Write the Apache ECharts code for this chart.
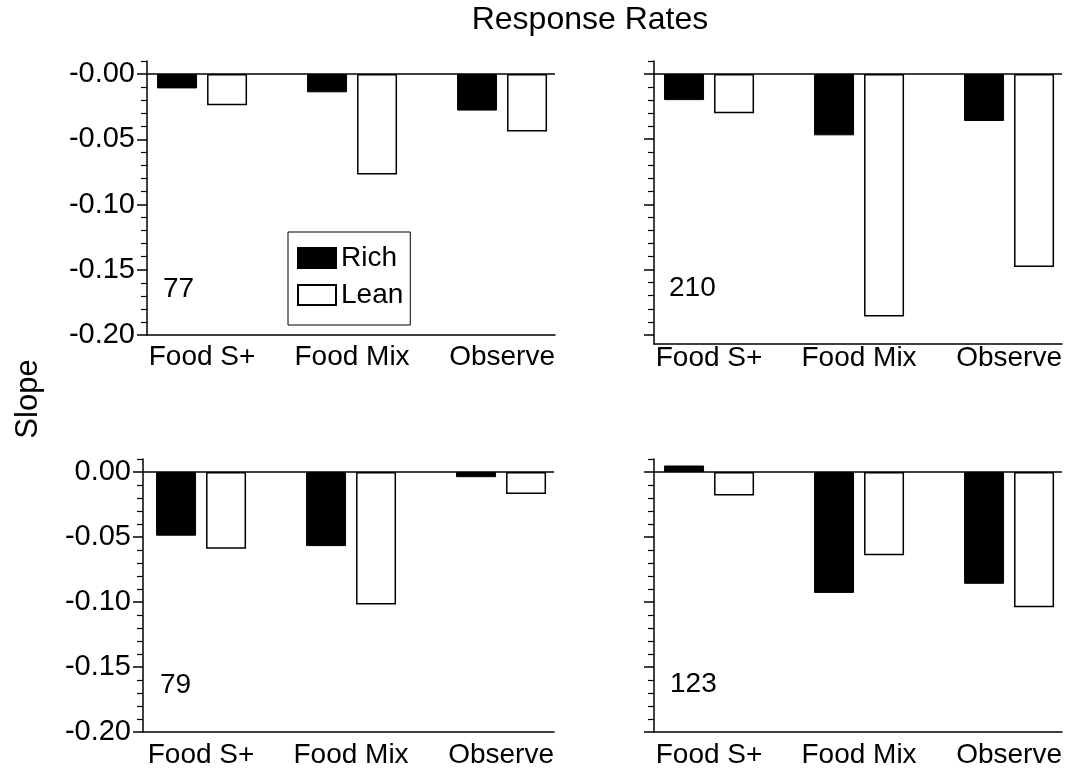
<!DOCTYPE html>
<html>
<head>
<meta charset="utf-8">
<script src="https://cdn.jsdelivr.net/npm/echarts@6/dist/echarts.min.js"></script>
<style>
  html, body { margin: 0; padding: 0; background: #fff; }
  #chart { width: 1070px; height: 774px; }
</style>
</head>
<body>
<div id="chart"></div>
<script>
// Conditions along the x axis of every panel
const categories = ['Food S+', 'Food Mix', 'Observe'];

// Slopes per subject (panel) for the rich and lean components
const rich77  = [-0.011, -0.014, -0.028];
const lean77  = [-0.024, -0.077, -0.044];
const rich210 = [-0.020, -0.047, -0.036];
const lean210 = [-0.030, -0.186, -0.148];
const rich79  = [-0.049, -0.057, -0.004];
const lean79  = [-0.059, -0.102, -0.017];
const rich123 = [0.005, -0.093, -0.086];
const lean123 = [-0.018, -0.064, -0.104];

// Y axis ticks
const majorTicks = [0, -0.05, -0.10, -0.15, -0.20];
const minorTicks = [0.01, -0.01, -0.02, -0.03, -0.04, -0.06, -0.07, -0.08, -0.09,
                    -0.11, -0.12, -0.13, -0.14, -0.16, -0.17, -0.18, -0.19];
const tickLabelsUpper = ['-0.00', '-0.05', '-0.10', '-0.15', '-0.20'];
const tickLabelsLower = ['0.00', '-0.05', '-0.10', '-0.15', '-0.20'];

const FONT = 'Liberation Sans, Arial, Helvetica, sans-serif';
const BLACK = '#000';

const panels = [
  { id: '77',  rich: rich77,  lean: lean77,  left: 147, top: 61,  width: 408, height: 274, yMin: -0.20,  xMin: -0.367, labels: tickLabelsUpper, labelMargin: 8 },
  { id: '210', rich: rich210, lean: lean210, left: 654, top: 61,  width: 408, height: 283, yMin: -0.207, xMin: -0.367, labels: null,            labelMargin: 0 },
  { id: '79',  rich: rich79,  lean: lean79,  left: 143, top: 459, width: 411, height: 273, yMin: -0.20,  xMin: -0.387, labels: tickLabelsLower, labelMargin: 9 },
  { id: '123', rich: rich123, lean: lean123, left: 654, top: 459, width: 408, height: 273, yMin: -0.20,  xMin: -0.367, labels: null,            labelMargin: 9 }
];
const X_MAX = 2.353;
const Y_MAX = 0.01;

const grid = [], xAxis = [], yAxis = [], series = [], graphic = [];

panels.forEach((p, i) => {
  grid.push({ left: p.left, top: p.top, width: p.width, height: p.height });

  xAxis.push({
    type: 'value', gridIndex: i, min: p.xMin, max: X_MAX,
    axisLine: { show: true, onZero: false, lineStyle: { color: BLACK, width: 1.5 } },
    axisTick: { show: false },
    splitLine: { show: false },
    axisLabel: {
      customValues: [0, 1, 2],
      formatter: v => categories[Math.round(v)],
      margin: p.labelMargin,
      color: BLACK, fontFamily: FONT, fontSize: 28
    }
  });

  // major axis: line, long ticks, labels
  const labels = p.labels;
  yAxis.push({
    type: 'value', gridIndex: i, min: p.yMin, max: Y_MAX,
    axisLine: { show: true, onZero: false, lineStyle: { color: BLACK, width: 1.5 } },
    axisTick: { show: true, customValues: majorTicks, length: 10, lineStyle: { color: BLACK, width: 1.5 } },
    splitLine: { show: false },
    axisLabel: labels ? {
      show: true,
      customValues: majorTicks,
      formatter: v => labels[majorTicks.findIndex(t => Math.abs(t - v) < 1e-9)],
      margin: 12,
      color: BLACK, fontFamily: FONT, fontSize: 29
    } : { show: false }
  });
  // minor ticks only, on the same left edge
  yAxis.push({
    type: 'value', gridIndex: i, min: p.yMin, max: Y_MAX, position: 'left',
    axisLine: { show: false, onZero: false },
    axisTick: { show: true, customValues: minorTicks, length: 6, lineStyle: { color: BLACK, width: 1.2 } },
    splitLine: { show: false },
    axisLabel: { show: false }
  });

  const yIdx = i * 2;
  series.push({
    name: 'Rich', type: 'bar', xAxisIndex: i, yAxisIndex: yIdx,
    data: categories.map((c, k) => [k, p.rich[k]]),
    barWidth: 40, barGap: '25%',
    itemStyle: { color: BLACK, borderColor: BLACK, borderWidth: 1 },
    markLine: {
      silent: true, symbol: 'none', label: { show: false },
      lineStyle: { color: BLACK, type: 'solid', width: 1.5 },
      data: [{ yAxis: 0 }]
    }
  });
  series.push({
    name: 'Lean', type: 'bar', xAxisIndex: i, yAxisIndex: yIdx,
    data: categories.map((c, k) => [k, p.lean[k]]),
    barWidth: 40, barGap: '25%',
    itemStyle: { color: '#fff', borderColor: BLACK, borderWidth: 1.5 }
  });
});

// Subject numbers inside each panel
const idPos = [[163, 289], [669, 288], [160, 685], [670, 684]];
panels.forEach((p, i) => {
  graphic.push({
    type: 'text', x: idPos[i][0], y: idPos[i][1],
    style: { text: p.id, fill: BLACK, font: '28px ' + FONT, textAlign: 'left', textVerticalAlign: 'middle' }
  });
});
graphic.push({
  type: 'text', x: 590, y: 20,
  style: { text: 'Response Rates', fill: BLACK, font: '32px ' + FONT, textAlign: 'center', textVerticalAlign: 'middle' }
});
graphic.push({
  type: 'text', x: 28, y: 399, rotation: Math.PI / 2,
  style: { text: 'Slope', fill: BLACK, font: '31px ' + FONT, textAlign: 'center', textVerticalAlign: 'middle' }
});

const chart = echarts.init(document.getElementById('chart'), null, { renderer: 'canvas' });
chart.setOption({
  backgroundColor: '#fff',
  animation: false,
  grid, xAxis, yAxis, series, graphic,
  legend: {
    data: ['Rich', 'Lean'],
    orient: 'vertical',
    left: 288, top: 232,
    itemWidth: 38, itemHeight: 20, itemGap: 9, itemTextGap: 3,
    padding: [12, 7, 16, 9],
    borderColor: BLACK, borderWidth: 1,
    icon: 'rect',
    selectedMode: false,
    textStyle: { color: BLACK, fontFamily: FONT, fontSize: 28, lineHeight: 28 }
  }
});
</script>
</body>
</html>
